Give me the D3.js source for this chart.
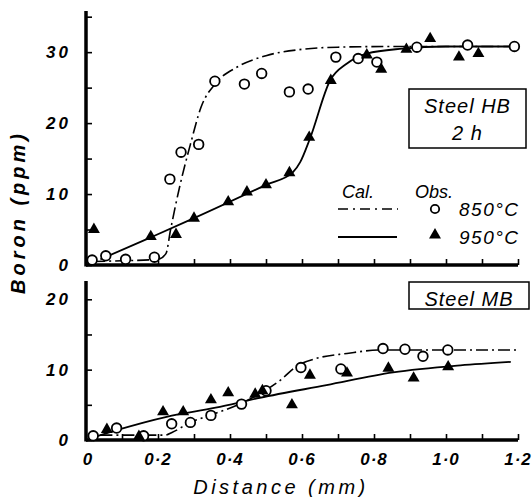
<!DOCTYPE html>
<html>
<head>
<meta charset="utf-8">
<script src="https://cdn.jsdelivr.net/npm/d3@7"></script>
<style>
  body { margin: 0; background: #fff; }
  text { font-family: "Liberation Sans", Arial, sans-serif; font-style: italic; fill: #000; }
  .tick-label { font-size: 17px; font-weight: bold; }
</style>
</head>
<body>
<div class="chart"></div>
<script>
// observed points, Steel HB 2 h
var hb850 = [[0.017,0.7],[0.055,1.3],[0.11,0.8],[0.19,1.1],[0.233,12.1],[0.264,15.9],[0.313,17.0],[0.358,25.9],
  [0.44,25.5],[0.488,27.0],[0.565,24.4],[0.617,24.8],[0.694,29.3],[0.756,29.1],[0.808,28.6],[0.919,30.7],[1.06,31.0],[1.19,30.8]];
var hb950 = [[0.022,5.0],[0.18,4.0],[0.25,4.3],[0.30,6.6],[0.395,8.9],[0.447,10.3],[0.50,11.3],[0.565,13.0],
  [0.62,18.0],[0.68,26.0],[0.78,29.6],[0.82,27.6],[0.89,30.4],[0.956,31.9],[1.036,29.3],[1.09,29.8]];
// calculated curves, Steel HB
var hbCal850 = [[0.02,0.5],[0.1,0.6],[0.2,0.8],[0.222,1.6],[0.235,5],[0.26,11],[0.29,17],[0.32,22.3],[0.36,25.6],
  [0.42,27.9],[0.5,29.5],[0.6,30.4],[0.7,30.7],[0.85,30.8],[1.2,30.8]];
var hbCal950 = [[0.04,0.8],[0.18,3.9],[0.30,6.6],[0.5,11.3],[0.575,13.1],[0.595,14.5],[0.622,17.8],[0.678,26],
  [0.725,28.4],[0.78,29.8],[0.88,30.5],[1.0,30.8],[1.2,30.8]];

// observed points, Steel MB
var mb850 = [[0.02,0.6],[0.085,1.7],[0.16,0.6],[0.238,2.3],[0.29,2.5],[0.347,3.5],[0.432,5.1],[0.5,7.0],
  [0.597,10.3],[0.708,10.1],[0.825,13.0],[0.886,12.9],[0.936,11.9],[1.005,12.8]];
var mb950 = [[0.058,1.5],[0.147,0.5],[0.214,4.0],[0.27,4.0],[0.347,5.7],[0.395,6.7],[0.47,6.5],[0.49,7.0],
  [0.572,5.0],[0.622,9.2],[0.725,9.5],[0.84,10.2],[0.91,8.8],[1.006,10.4]];
var mbCal850 = [[0.04,0.7],[0.22,0.7],[0.24,1.1],[0.29,2.5],[0.35,3.6],[0.43,5.2],[0.5,7.1],[0.54,8.5],
  [0.585,10.5],[0.64,11.6],[0.725,12.3],[0.817,12.8],[1.2,12.8]];
var mbCal950 = [[0.01,0.2],[0.085,1.4],[0.224,3.3],[0.36,4.6],[0.483,6.0],[0.668,7.8],[0.853,9.6],[1.04,10.6],[1.18,11.1]];

var xTicks = [0, 0.2, 0.4, 0.6, 0.8, 1.0, 1.2];
var xTickLabels = ["0", "0·2", "0·4", "0·6", "0·8", "1·0", "1·2"];
var hbYTicks = [0, 10, 20, 30];
var mbYTicks = [0, 10, 20];

var W = 532, H = 497;
var svg = d3.select(".chart").append("svg").attr("width", W).attr("height", H);

var x = d3.scaleLinear().domain([0, 1.2]).range([86, 518]);
var yTop = d3.scaleLinear().domain([0, 35.8]).range([265, 11]);
var yBot = d3.scaleLinear().domain([0, 22.6]).range([440, 281]);

var dashDot = "12,4,2,4";

var drawPanel = function (y, yTicks, obs850, obs950, cal850, cal950, showLabels) {
    var g = svg.append("g");

    // minor + major ticks pointing inward
    var yAxis = d3.axisRight(y).tickValues(d3.range(0, y.domain()[1], 5)).tickSize(6).tickFormat("");
    g.append("g").attr("transform", "translate(" + x(0) + ",0)").call(yAxis)
        .call(a => a.select(".domain").remove())
        .selectAll("line").attr("stroke-width", 1.6);

    var xAxis = d3.axisTop(x).tickValues(d3.range(0, 12.5).map(d => d / 10)).tickSize(6).tickFormat("");
    g.append("g").attr("transform", "translate(0," + y(0) + ")").call(xAxis)
        .call(a => a.select(".domain").remove())
        .selectAll("line").attr("stroke-width", 1.6);

    // thick axis lines
    g.append("line").attr("x1", x(0)).attr("x2", x(0)).attr("y1", y(0) + 1.5).attr("y2", y.range()[1])
        .attr("stroke", "#000").attr("stroke-width", 3.5);
    g.append("line").attr("x1", x(0)).attr("x2", x(1.2)).attr("y1", y(0)).attr("y2", y(0))
        .attr("stroke", "#000").attr("stroke-width", 3.5);

    g.selectAll(".ylab").data(yTicks).enter().append("text")
        .attr("class", "tick-label")
        .attr("x", 71).attr("y", d => y(d)).attr("dy", "0.36em")
        .attr("text-anchor", "end")
        .attr("letter-spacing", "3px")
        .text(d => d);

    if (showLabels) {
        g.selectAll(".xlab").data(xTicks).enter().append("text")
            .attr("class", "tick-label")
            .attr("x", (d, i) => x(d) + (i === 0 ? 2 : 0)).attr("y", 465)
            .attr("text-anchor", "middle")
            .attr("font-weight", "normal")
            .attr("letter-spacing", "1px")
            .text((d, i) => xTickLabels[i]);
    }

    var line = d3.line().x(d => x(d[0])).y(d => y(d[1])).curve(d3.curveMonotoneX);
    g.append("path").attr("d", line(cal850)).attr("fill", "none").attr("stroke", "#000")
        .attr("stroke-width", 1.6).attr("stroke-dasharray", dashDot);
    g.append("path").attr("d", line(cal950)).attr("fill", "none").attr("stroke", "#000")
        .attr("stroke-width", 1.8);

    g.selectAll(".o").data(obs850).enter().append("circle")
        .attr("cx", d => x(d[0])).attr("cy", d => y(d[1])).attr("r", 4.8)
        .attr("fill", "#fff").attr("stroke", "#000").attr("stroke-width", 1.8);
    var tri = d3.symbol().type(d3.symbolTriangle).size(62);
    g.selectAll(".t").data(obs950).enter().append("path")
        .attr("d", tri)
        .attr("transform", d => "translate(" + x(d[0]) + "," + y(d[1]) + ")")
        .attr("fill", "#000");
    return g;
};

drawPanel(yTop, hbYTicks, hb850, hb950, hbCal850, hbCal950, false);
drawPanel(yBot, mbYTicks, mb850, mb950, mbCal850, mbCal950, true);

// boxes
var box = function (x0, y0, w, h, lines, size) {
    svg.append("rect").attr("x", x0).attr("y", y0).attr("width", w).attr("height", h)
        .attr("fill", "#fff").attr("stroke", "#000").attr("stroke-width", 1.5);
    lines.forEach(function (t, i) {
        svg.append("text").attr("x", x0 + w / 2).attr("y", y0 + 24 + i * 27)
            .attr("text-anchor", "middle").attr("font-size", size).attr("letter-spacing", "1px")
            .text(t);
    });
};
box(409, 89, 117, 59, ["Steel HB", "2 h"], 20);
box(409, 282, 120, 27, ["Steel MB"], 20);

// legend
var leg = svg.append("g");
leg.append("text").attr("x", 358).attr("y", 198).attr("text-anchor", "middle").attr("font-size", 18).text("Cal.");
leg.append("text").attr("x", 434).attr("y", 198).attr("text-anchor", "middle").attr("font-size", 18).text("Obs.");
leg.append("line").attr("x1", 338).attr("x2", 398).attr("y1", 209).attr("y2", 209)
    .attr("stroke", "#000").attr("stroke-width", 1.6).attr("stroke-dasharray", "10,5,2,5");
leg.append("line").attr("x1", 338).attr("x2", 397).attr("y1", 237).attr("y2", 237)
    .attr("stroke", "#000").attr("stroke-width", 1.8);
leg.append("circle").attr("cx", 435).attr("cy", 209).attr("r", 4.2).attr("fill", "#fff")
    .attr("stroke", "#000").attr("stroke-width", 1.8);
leg.append("path").attr("d", d3.symbol().type(d3.symbolTriangle).size(62))
    .attr("transform", "translate(435,235)").attr("fill", "#000");
leg.append("text").attr("x", 459).attr("y", 216).attr("font-size", 19).attr("letter-spacing", "1.5px").text("850°C");
leg.append("text").attr("x", 459).attr("y", 244).attr("font-size", 19).attr("letter-spacing", "1.5px").text("950°C");

// axis titles
svg.append("text")
    .attr("transform", "translate(25,212) rotate(-90)")
    .attr("text-anchor", "middle").attr("font-size", 20).attr("font-weight", "bold")
    .attr("letter-spacing", "4px")
    .text("Boron  (ppm)");
svg.append("text")
    .attr("x", 281).attr("y", 494)
    .attr("text-anchor", "middle").attr("font-size", 20)
    .attr("letter-spacing", "3.5px")
    .text("Distance  (mm)");
</script>
</body>
</html>
